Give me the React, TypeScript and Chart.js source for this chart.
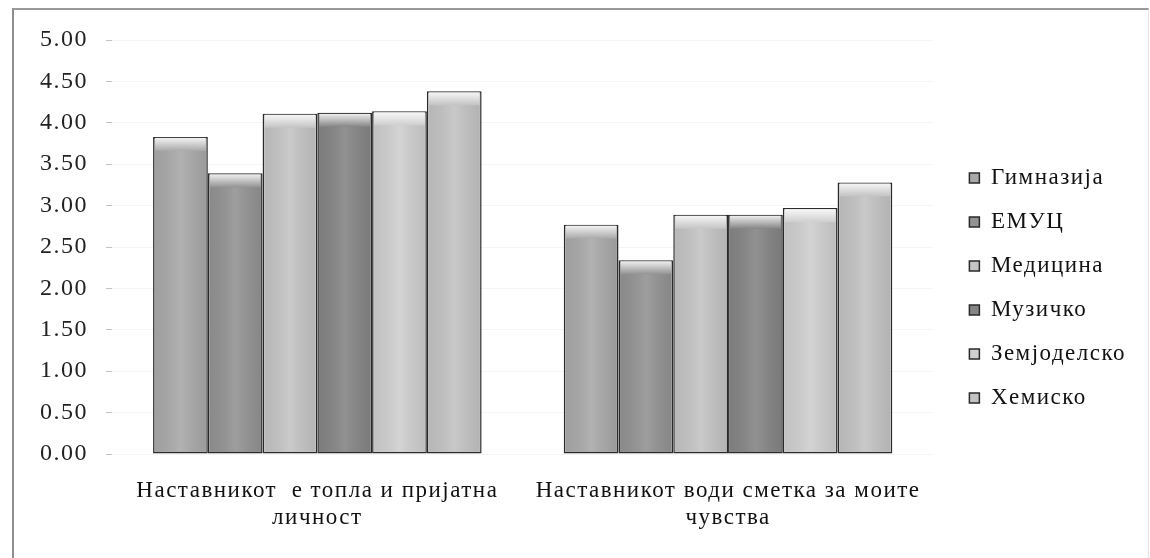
import React, { useEffect, useRef } from "react";
import { Chart, registerables } from "chart.js";

Chart.register(...registerables);

const categories: string[][] = [
  ["Наставникот  е топла и пријатна", "личност"],
  ["Наставникот води сметка за моите", "чувства"],
];
const seriesNames = ["Гимназија", "ЕМУЦ", "Медицина", "Музичко", "Земјоделско", "Хемиско"];
const gimnazija = [3.83, 2.77];
const emuc = [3.39, 2.34];
const medicina = [4.11, 2.89];
const muzicko = [4.12, 2.89];
const zemjodelsko = [4.14, 2.97];
const hemisko = [4.38, 3.28];
const seriesValues = [gimnazija, emuc, medicina, muzicko, zemjodelsko, hemisko];
const seriesColors = ["#a9a9a9", "#939393", "#c4c4c4", "#858585", "#cfcfcf", "#c3c3c3"];
const yMin = 0;
const yMax = 5;
const yStep = 0.5;

const FONT = "'Liberation Serif', 'Times New Roman', serif";

const spacingPlugin = {
  id: "spacing",
  beforeUpdate(chart: any) {
    chart.ctx.letterSpacing = "1.5px";
  },
  beforeDraw(chart: any) {
    chart.ctx.letterSpacing = "1.5px";
  },
};

const glossPlugin = {
  id: "gloss",
  afterDatasetsDraw(chart: any) {
    const ctx = chart.ctx;
    chart.data.datasets.forEach((_: any, di: number) => {
      const meta = chart.getDatasetMeta(di);
      meta.data.forEach((bar: any) => {
        const { x, y, width, base } = bar.getProps(["x", "y", "width", "base"], true);
        const left = x - width / 2 + 2;
        const w = width - 4;
        const g = ctx.createLinearGradient(0, y + 1, 0, y + 14);
        g.addColorStop(0, "rgba(255,255,255,0.85)");
        g.addColorStop(1, "rgba(255,255,255,0)");
        ctx.save();
        ctx.fillStyle = g;
        ctx.fillRect(left, y + 1, w, 13);
        const h = ctx.createLinearGradient(left, 0, left + w, 0);
        h.addColorStop(0, "rgba(0,0,0,0.06)");
        h.addColorStop(0.5, "rgba(255,255,255,0.10)");
        h.addColorStop(1, "rgba(0,0,0,0.08)");
        ctx.fillStyle = h;
        ctx.fillRect(left, y + 14, w, base - y - 16);
        ctx.restore();
      });
    });
  },
};

export default function App() {
  const ref = useRef<HTMLCanvasElement>(null);
  useEffect(() => {
    const chart = new Chart(ref.current as HTMLCanvasElement, {
      type: "bar",
      data: {
        labels: categories,
        datasets: seriesNames.map((name, i) => ({
          label: name,
          data: seriesValues[i],
          backgroundColor: seriesColors[i],
          borderColor: "#2a2a2a",
          borderWidth: 1.5,
          borderSkipped: false,
          categoryPercentage: 0.8,
          barPercentage: 1.0,
        })),
      },
      options: {
        responsive: false,
        animation: false,
        devicePixelRatio: 1,
        layout: { padding: { top: 40, left: 0, right: 14, bottom: 22 } },
        plugins: {
          tooltip: { enabled: false },
          legend: {
            position: "right",
            labels: {
              font: { family: FONT, size: 23 },
              color: "#111",
              boxWidth: 10,
              boxHeight: 10,
              padding: 21,
            },
          },
        },
        scales: {
          x: {
            grid: { display: false, drawTicks: false },
            border: { display: false },
            ticks: {
              font: { family: FONT, size: 23, lineHeight: 1.2 },
              color: "#111",
              padding: 23,
              maxRotation: 0,
              autoSkip: false,
            },
            afterFit: (s: any) => {
              s.height = 82;
            },
          },
          y: {
            min: yMin,
            max: yMax,
            grid: { color: "#f5f5f5", tickColor: "#c4c4c4", tickLength: 6, drawTicks: true },
            border: { display: false },
            ticks: {
              stepSize: yStep,
              font: { family: FONT, size: 24 },
              color: "#222",
              padding: 18,
              callback: (v: any) => Number(v).toFixed(2),
            },
            afterFit: (s: any) => {
              s.width = 112;
            },
          },
          y2: {
            position: "right",
            display: true,
            grid: { display: false, drawTicks: false },
            border: { display: false },
            ticks: { display: false },
            afterFit: (s: any) => {
              s.width = 15;
            },
          },
        },
      },
      plugins: [spacingPlugin, glossPlugin],
    });
    return () => chart.destroy();
  }, []);
  return (
    <div style={{ position: "absolute", left: 0, top: 0, width: 1150, height: 558, background: "#fff", overflow: "hidden" }}>
      <canvas ref={ref} width={1150} height={558} style={{ position: "absolute", left: 0, top: 0 }} />
      <div
        style={{
          position: "absolute",
          left: 12,
          top: 8,
          width: 1134,
          height: 600,
          borderTop: "2px solid #9a9a9a",
          borderLeft: "2px solid #8f8f8f",
          borderRight: "1px solid #e2e2e2",
          pointerEvents: "none",
        }}
      />
    </div>
  );
}
